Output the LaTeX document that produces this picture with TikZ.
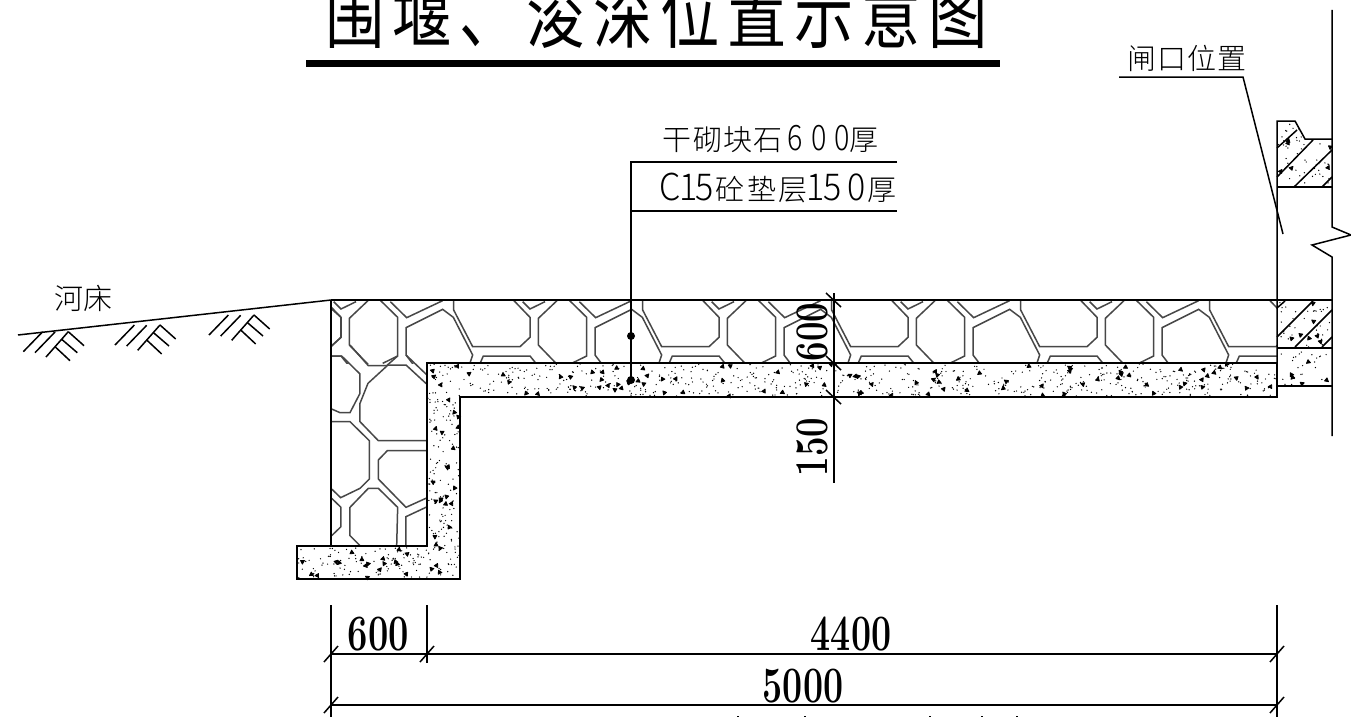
\documentclass[tikz,border=0pt]{standalone}
\usepackage{fontspec}
\usepackage{graphicx}
\newfontfamily\cjkf{Noto Sans CJK SC Light}
\newfontfamily\cjkr{Noto Sans CJK SC}
\newcommand\gl[2]{\makebox[#1pt][c]{#2}}
\newcommand\dg[2]{\makebox[#1pt][c]{\fontsize{35}{35}\selectfont\scalebox{.82}[1]{#2}}}
\newcommand\dgb[2]{\makebox[#1pt][c]{\fontsize{37}{37}\selectfont\scalebox{.92}[1]{#2}}}
\newcommand\speck[6]{%
  \foreach \i in {1,...,#5}{%
    \pgfmathsetmacro\sx{#1+rnd*#3}\pgfmathsetmacro\sy{#2+rnd*#4}%
    \fill (\sx,\sy) circle (.7);}%
  \foreach \i in {1,...,#6}{%
    \pgfmathsetmacro\sx{#1+rnd*#3}\pgfmathsetmacro\sy{#2+rnd*#4}\pgfmathsetmacro\sr{rnd*360}%
    \fill[shift={(\sx,\sy)},rotate=\sr,line join=round,draw=black,line width=.8pt] (-2,-1.5)--(2,-1.5)--(.2,2)--cycle;}%
}
\tikzset{
  heavy/.style={line width=2pt,black},
  medline/.style={line width=1.5pt,black},
  stone/.style={line width=1.5pt,draw=black!72,line join=miter},
  dimnum/.style={inner sep=0pt,font=\bfseries\fontsize{51}{51}\selectfont},
  cjklabel/.style={inner sep=0pt,anchor=base west,font=\cjkf\fontsize{29}{29}\selectfont},
}
\begin{document}
\begin{tikzpicture}[x=1pt,y=-1pt]
\useasboundingbox (0,0) rectangle (1351,717);
\clip (0,0) rectangle (1351,717);
\fill[white] (0,0) rectangle (1351,717);

% title
\node[inner sep=0pt,anchor=base west,font=\cjkr\fontsize{76}{76}\selectfont] (title) at (325,43)
  {\scalebox{.78}[1]{围\hspace{10pt}堰\hspace{10pt}、\hspace{10pt}浚\hspace{10pt}深\hspace{10pt}位\hspace{10pt}置\hspace{10pt}示\hspace{10pt}意\hspace{10pt}图}};
\fill (306,60) rectangle (1000,67);

% stones in the horizontal layer
\begin{scope}
\clip (331,300) rectangle (1277,363);
\foreach \k in {-1,...,4}{
\begin{scope}[shift={(450+\k*189,280)},x=.33333pt,y=-.33333pt]
 \draw[stone] (190,60)--(240,112)--(240,172)--(210,200)--(68,200)--(11,90)--(11,60);
 \draw[stone] (218,65)--(240,87)--(285,65);
 \draw[stone] (323,60)--(265,115)--(265,195)--(323,255);
 \draw[stone] (357,60)--(410,112)--(410,228)--(365,250);
 \draw[stone] (388,65)--(437,113)--(545,62);
 \draw[stone] (458,255)--(435,225)--(435,143)--(545,88)--(577,112)--(635,225)--(625,255);
 \draw[stone] (88,255)--(100,228)--(240,228)--(262,255);
\end{scope}}
\end{scope}
% stones in the vertical wall
\begin{scope}
\clip (331,300) -- (427,300) -- (427,546) -- (331,546) -- cycle;
\begin{scope}[shift={(0,280)},x=.33333pt,y=-.33333pt]
 \draw[stone] (1050,195)--(1105,257)--(1160,257)--(1193,228);
 \draw[stone] (1218,225)--(1282,286);
 \draw[stone] (995,87)--(1023,112)--(1023,172)--(995,197);
 \draw[stone] (995,228)--(1025,228)--(1080,282)--(1080,340)--(1050,398)--(1020,398)--(995,387);
 \draw[stone] (1282,314)--(1218,255)--(1164,255)--(1104,310)--(1080,370)--(1080,425)--(1135,482)--(1282,482);
 \draw[stone] (995,425)--(1050,425)--(1108,482)--(1108,597)--(1080,625)--(1022,653)--(995,627);
 \draw[stone] (1282,512)--(1162,512)--(1135,540)--(1135,597)--(1218,682)--(1282,653);
 \draw[stone] (1282,680)--(1218,710)--(1218,800);
 \draw[stone] (995,655)--(1023,682)--(1023,740)--(995,767);
 \draw[stone] (1190,800)--(1193,682)--(1135,625)--(1105,625)--(1050,682)--(1050,767)--(1083,800);
\end{scope}
\end{scope}

% speckled concrete
\pgfmathsetseed{4711}
\speck{427}{364}{850}{32}{620}{95}
\speck{428}{397}{31}{150}{110}{20}
\speck{298}{547}{161}{31}{125}{22}
\speck{1278}{122}{53}{64}{50}{8}
\speck{1278}{302}{53}{45}{35}{7}
\speck{1278}{349}{53}{36}{22}{5}
\fill[white] (1334,100) rectangle (1351,400);
\fill[white] (1296,121) -- (1306,139) -- (1351,139) -- (1351,115) -- (1296,115) -- cycle;

% concrete outline and wall
\draw[heavy,line join=miter] (427,363)--(1277,363)--(1277,397)--(460,397)--(460,579)--(297,579)--(297,546)--(427,546)--cycle;
\draw[heavy] (331,300)--(331,546);
\draw[heavy] (331,300)--(1277,300);
\draw[medline] (18,335)--(331,300);

% ground hatching
\foreach \dx/\dy in {0/0,91.7/-6.7,185.7/-16.7}{
\begin{scope}[shift={(\dx,\dy)}]
 \draw[medline] (23.3,351.7)--(42.7,331.7) (35,352.7)--(55,332) (46,357)--(68.3,331.7);
 \draw[medline] (68.3,331.7)--(84,345.7) (61.7,339.3)--(77.3,352.7) (55,346.7)--(70,360.7);
\end{scope}}

% gate structure
\draw[medline] (1277,397)--(1277,121)--(1295,121)--(1305,139)--(1332,139);
\draw[medline] (1277,187)--(1332,187);
\draw[medline] (1332,10)--(1332,227)--(1351,235)--(1312,245)--(1332,257)--(1332,436);
\draw[medline] (1277,300)--(1332,300) (1277,348)--(1332,348) (1277,386)--(1332,386);
\draw[medline] (1277,148)--(1297,130) (1277,177)--(1313,140) (1294,187)--(1332,150) (1322,187)--(1332,177);
\draw[medline] (1277,308)--(1285,301) (1277,337)--(1313,301) (1295,347)--(1332,310) (1322,347)--(1332,337);

% leaders
\draw[medline] (1119,77)--(1243,77)--(1283,234);
\draw[medline] (897,162)--(631,162)--(631,380);
\draw[medline] (631,211)--(897,211);
\fill (631,336) circle (4);
\fill (631,380) circle (4);

% labels
\node[cjklabel] (lblA) at (662,150) {\gl{30}{干}\gl{32}{砌}\gl{28}{块}\gl{32}{石}\dg{22}{6}\dg{26}{0}\dg{20}{0}\gl{24}{厚}};
\node[cjklabel] (lblB) at (660,200) {\dgb{20}{C}\dgb{16}{1}\dgb{16}{5}\gl{36}{砼}\gl{28}{垫}\gl{34}{层}\dgb{10}{1}\dgb{24}{5}\dgb{24}{0}\gl{28}{厚}};
\node[cjklabel] (lblC) at (54,309) {\gl{29}{河}\gl{30}{床}};
\node[cjklabel] (lblD) at (1127,69.5) {\gl{30}{闸}\gl{30}{口}\gl{30}{位}\gl{30}{置}};

% vertical dimension
\draw[medline] (834,293)--(834,483);
\foreach \yy in {300,363,397}{\draw[medline] (826,\yy-7)--(841,\yy+7);}
\node[dimnum,rotate=90] (v600) at (812,332) {\scalebox{.68}[.92]{600}};
\node[dimnum,rotate=90] (v150) at (812,447) {\scalebox{.68}[.92]{150}};

% bottom dimensions
\draw[medline] (331,605)--(331,717) (427,605)--(427,663) (1277,605)--(1277,717);
\draw[heavy] (331,654)--(1277,654);
\draw[heavy] (331,705)--(1277,705);
\foreach \xx/\yy in {331/654,427/654,1277/654,331/705,1277/705}{\draw[medline] (\xx-7,\yy+8)--(\xx+7,\yy-8);}
\node[dimnum] (d600) at (378.5,634) {\scalebox{.71}[1]{600}};
\node[dimnum] (d4400) at (851,634) {\scalebox{.7}[1]{4400}};
\node[dimnum] (d5000) at (803,686) {\scalebox{.7}[1]{5000}};

% tops of cropped text at the lower edge
\foreach \xx in {738,805,930,982,1017}{\fill (\xx-1,715.5) rectangle (\xx+1,717);}
\end{tikzpicture}
\end{document}
